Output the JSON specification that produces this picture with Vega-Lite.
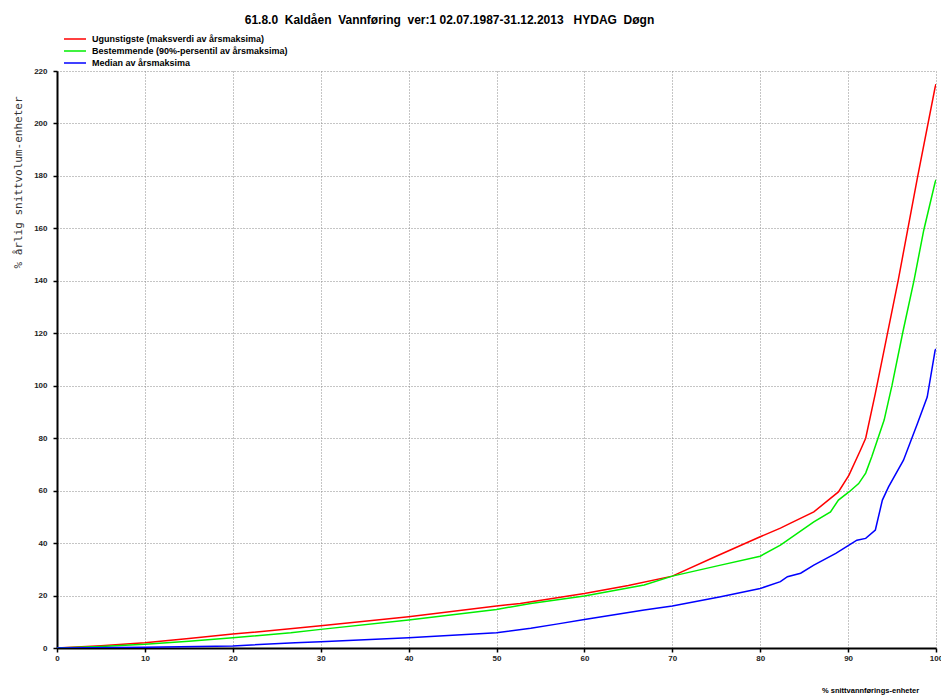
{
  "$schema": "https://vega.github.io/schema/vega-lite/v6.json",
  "width": 879,
  "height": 577,
  "autosize": "none",
  "padding": {"left": 57, "top": 71, "right": 5, "bottom": 51},
  "background": "white",
  "title": {
    "text": "61.8.0 \u00a0Kaldåen \u00a0Vannføring \u00a0ver:1 02.07.1987-31.12.2013 \u00a0 HYDAG \u00a0Døgn",
    "anchor": "middle",
    "frame": "group",
    "dx": -47,
    "dy": 7,
    "offset": 4,
    "baseline": "alphabetic",
    "font": "Liberation Sans",
    "fontSize": 12,
    "fontWeight": "bold",
    "color": "black"
  },
  "config": {
    "view": {"stroke": null},
    "axis": {
      "domainColor": "black",
      "domainWidth": 2,
      "tickColor": "black",
      "tickSize": 4,
      "tickWidth": 1.5,
      "gridColor": "#8a8a8a",
      "gridDash": [1, 2],
      "gridWidth": 1,
      "labelFont": "Liberation Sans",
      "labelFontSize": 8,
      "labelFontWeight": "bold",
      "labelColor": "#222",
      "titleColor": "black"
    }
  },
  "data": {
    "values": [
      {"s": "Ugunstigste (maksverdi av årsmaksima)", "x": 0, "y": 0},
      {"s": "Ugunstigste (maksverdi av årsmaksima)", "x": 5, "y": 0.9},
      {"s": "Ugunstigste (maksverdi av årsmaksima)", "x": 10, "y": 2.0},
      {"s": "Ugunstigste (maksverdi av årsmaksima)", "x": 15, "y": 3.6},
      {"s": "Ugunstigste (maksverdi av årsmaksima)", "x": 20, "y": 5.3},
      {"s": "Ugunstigste (maksverdi av årsmaksima)", "x": 27.1, "y": 7.5},
      {"s": "Ugunstigste (maksverdi av årsmaksima)", "x": 30, "y": 8.5},
      {"s": "Ugunstigste (maksverdi av årsmaksima)", "x": 40, "y": 11.9},
      {"s": "Ugunstigste (maksverdi av årsmaksima)", "x": 50, "y": 16.0},
      {"s": "Ugunstigste (maksverdi av årsmaksima)", "x": 52.7, "y": 17.0},
      {"s": "Ugunstigste (maksverdi av årsmaksima)", "x": 60, "y": 20.8},
      {"s": "Ugunstigste (maksverdi av årsmaksima)", "x": 65, "y": 23.8},
      {"s": "Ugunstigste (maksverdi av årsmaksima)", "x": 70, "y": 27.4},
      {"s": "Ugunstigste (maksverdi av årsmaksima)", "x": 75, "y": 35.0},
      {"s": "Ugunstigste (maksverdi av årsmaksima)", "x": 80, "y": 42.4},
      {"s": "Ugunstigste (maksverdi av årsmaksima)", "x": 82.3, "y": 45.7},
      {"s": "Ugunstigste (maksverdi av årsmaksima)", "x": 83.4, "y": 47.5},
      {"s": "Ugunstigste (maksverdi av årsmaksima)", "x": 86.1, "y": 51.9},
      {"s": "Ugunstigste (maksverdi av årsmaksima)", "x": 88.9, "y": 59.5},
      {"s": "Ugunstigste (maksverdi av årsmaksima)", "x": 90.1, "y": 65.9},
      {"s": "Ugunstigste (maksverdi av årsmaksima)", "x": 91.4, "y": 75.4},
      {"s": "Ugunstigste (maksverdi av årsmaksima)", "x": 92.0, "y": 80.0},
      {"s": "Ugunstigste (maksverdi av årsmaksima)", "x": 93.1, "y": 97.1},
      {"s": "Ugunstigste (maksverdi av årsmaksima)", "x": 94.4, "y": 118.6},
      {"s": "Ugunstigste (maksverdi av årsmaksima)", "x": 95.7, "y": 140.2},
      {"s": "Ugunstigste (maksverdi av årsmaksima)", "x": 97.9, "y": 179.5},
      {"s": "Ugunstigste (maksverdi av årsmaksima)", "x": 99.9, "y": 213.8},
      {"s": "Ugunstigste (maksverdi av årsmaksima)", "x": 100, "y": 215},
      {"s": "Bestemmende (90%-persentil av årsmaksima)", "x": 0, "y": 0},
      {"s": "Bestemmende (90%-persentil av årsmaksima)", "x": 5, "y": 0.6},
      {"s": "Bestemmende (90%-persentil av årsmaksima)", "x": 10, "y": 1.4},
      {"s": "Bestemmende (90%-persentil av årsmaksima)", "x": 15, "y": 2.6},
      {"s": "Bestemmende (90%-persentil av årsmaksima)", "x": 20, "y": 3.9},
      {"s": "Bestemmende (90%-persentil av årsmaksima)", "x": 26.6, "y": 5.8},
      {"s": "Bestemmende (90%-persentil av årsmaksima)", "x": 30, "y": 7.1},
      {"s": "Bestemmende (90%-persentil av årsmaksima)", "x": 40, "y": 10.7},
      {"s": "Bestemmende (90%-persentil av årsmaksima)", "x": 50, "y": 14.7},
      {"s": "Bestemmende (90%-persentil av årsmaksima)", "x": 53.9, "y": 17.0},
      {"s": "Bestemmende (90%-persentil av årsmaksima)", "x": 60, "y": 19.8},
      {"s": "Bestemmende (90%-persentil av årsmaksima)", "x": 66.8, "y": 24.0},
      {"s": "Bestemmende (90%-persentil av årsmaksima)", "x": 70, "y": 27.4},
      {"s": "Bestemmende (90%-persentil av årsmaksima)", "x": 75.5, "y": 31.6},
      {"s": "Bestemmende (90%-persentil av årsmaksima)", "x": 80, "y": 35.0},
      {"s": "Bestemmende (90%-persentil av årsmaksima)", "x": 82.3, "y": 39.2},
      {"s": "Bestemmende (90%-persentil av årsmaksima)", "x": 86.1, "y": 48.1},
      {"s": "Bestemmende (90%-persentil av årsmaksima)", "x": 88.0, "y": 51.9},
      {"s": "Bestemmende (90%-persentil av årsmaksima)", "x": 88.9, "y": 56.4},
      {"s": "Bestemmende (90%-persentil av årsmaksima)", "x": 90.1, "y": 59.5},
      {"s": "Bestemmende (90%-persentil av årsmaksima)", "x": 91.2, "y": 62.7},
      {"s": "Bestemmende (90%-persentil av årsmaksima)", "x": 92.0, "y": 66.7},
      {"s": "Bestemmende (90%-persentil av årsmaksima)", "x": 92.7, "y": 73.0},
      {"s": "Bestemmende (90%-persentil av årsmaksima)", "x": 94.1, "y": 86.9},
      {"s": "Bestemmende (90%-persentil av årsmaksima)", "x": 95.0, "y": 100.2},
      {"s": "Bestemmende (90%-persentil av årsmaksima)", "x": 96.2, "y": 120.0},
      {"s": "Bestemmende (90%-persentil av årsmaksima)", "x": 97.5, "y": 140.2},
      {"s": "Bestemmende (90%-persentil av årsmaksima)", "x": 98.6, "y": 159.2},
      {"s": "Bestemmende (90%-persentil av årsmaksima)", "x": 99.9, "y": 177.6},
      {"s": "Bestemmende (90%-persentil av årsmaksima)", "x": 100, "y": 178.5},
      {"s": "Median av årsmaksima", "x": 0, "y": 0},
      {"s": "Median av årsmaksima", "x": 10, "y": 0.3},
      {"s": "Median av årsmaksima", "x": 20, "y": 0.8},
      {"s": "Median av årsmaksima", "x": 27.1, "y": 2.0},
      {"s": "Median av årsmaksima", "x": 30, "y": 2.4},
      {"s": "Median av årsmaksima", "x": 40, "y": 3.9},
      {"s": "Median av årsmaksima", "x": 50, "y": 5.8},
      {"s": "Median av årsmaksima", "x": 53.9, "y": 7.5},
      {"s": "Median av årsmaksima", "x": 57, "y": 9.2},
      {"s": "Median av årsmaksima", "x": 60, "y": 10.9},
      {"s": "Median av årsmaksima", "x": 66.8, "y": 14.5},
      {"s": "Median av årsmaksima", "x": 70, "y": 16.0},
      {"s": "Median av årsmaksima", "x": 75.5, "y": 19.5},
      {"s": "Median av årsmaksima", "x": 80, "y": 22.7},
      {"s": "Median av årsmaksima", "x": 82.3, "y": 25.3},
      {"s": "Median av årsmaksima", "x": 83.1, "y": 27.2},
      {"s": "Median av årsmaksima", "x": 84.6, "y": 28.5},
      {"s": "Median av årsmaksima", "x": 86.1, "y": 31.6},
      {"s": "Median av årsmaksima", "x": 88.6, "y": 36.1},
      {"s": "Median av årsmaksima", "x": 90.1, "y": 39.2},
      {"s": "Median av årsmaksima", "x": 91.0, "y": 41.1},
      {"s": "Median av årsmaksima", "x": 92.0, "y": 41.8},
      {"s": "Median av årsmaksima", "x": 93.1, "y": 45.0},
      {"s": "Median av årsmaksima", "x": 93.9, "y": 56.4},
      {"s": "Median av årsmaksima", "x": 94.6, "y": 61.4},
      {"s": "Median av årsmaksima", "x": 96.3, "y": 71.6},
      {"s": "Median av årsmaksima", "x": 97.9, "y": 85.7},
      {"s": "Median av årsmaksima", "x": 99.0, "y": 95.7},
      {"s": "Median av årsmaksima", "x": 99.9, "y": 113.5},
      {"s": "Median av årsmaksima", "x": 100, "y": 114}
    ]
  },
  "mark": {"type": "line", "strokeWidth": 1.5, "clip": true},
  "encoding": {
    "x": {
      "field": "x",
      "type": "quantitative",
      "scale": {"domain": [0, 100], "nice": false, "zero": true},
      "axis": {
        "values": [0, 10, 20, 30, 40, 50, 60, 70, 80, 90, 100],
        "grid": true,
        "labelPadding": 2,
        "labelFlush": false,
        "title": "% snittvannførings-enheter",
        "titleFont": "Liberation Sans",
        "titleFontSize": 7.5,
        "titleFontWeight": "bold",
        "titleX": 813,
        "titleY": 44,
        "titleAlign": "center",
        "titleBaseline": "alphabetic"
      }
    },
    "y": {
      "field": "y",
      "type": "quantitative",
      "scale": {"domain": [0, 220], "nice": false},
      "axis": {
        "values": [0, 20, 40, 60, 80, 100, 120, 140, 160, 180, 200, 220],
        "grid": true,
        "labelPadding": 6,
        "labelFlush": false,
        "title": "% årlig snittvolum-enheter",
        "titleFont": "DejaVu Sans Mono",
        "titleFontSize": 11,
        "titleFontWeight": "normal",
        "titleColor": "#333",
        "titleAngle": -90,
        "titleX": -39,
        "titleY": 111,
        "titleAlign": "center",
        "titleBaseline": "middle"
      }
    },
    "color": {
      "field": "s",
      "type": "nominal",
      "sort": null,
      "scale": {
        "domain": ["Ugunstigste (maksverdi av årsmaksima)", "Bestemmende (90%-persentil av årsmaksima)", "Median av årsmaksima"],
        "range": ["#ff0000", "#00ee00", "#0000ff"]
      },
      "legend": {
        "orient": "none",
        "legendX": 11.5,
        "legendY": -38.5,
        "title": null,
        "symbolType": "M-2,0H2",
        "symbolSize": 121,
        "symbolStrokeWidth": 1.5,
        "symbolFillColor": "transparent",
        "labelFont": "Liberation Sans",
        "labelFontSize": 9,
        "labelFontWeight": "bold",
        "labelColor": "black",
        "labelLimit": 400,
        "rowPadding": 0,
        "labelOffset": 10.5
      }
    }
  }
}
